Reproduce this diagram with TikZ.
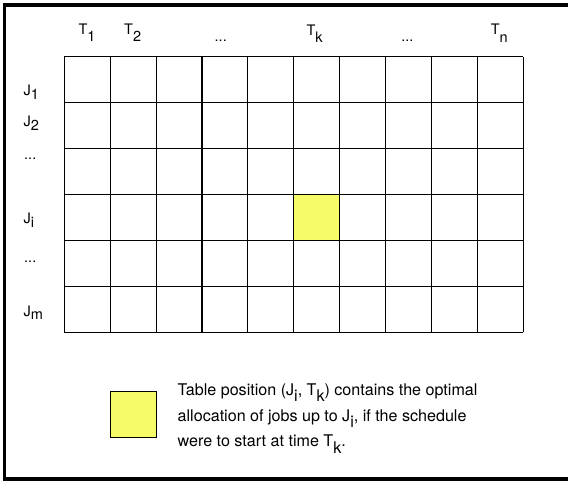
\documentclass[tikz,border=0pt]{standalone}
\usepackage{fontspec}
\setmainfont{TeX Gyre Heros}
\usetikzlibrary{positioning}
\definecolor{cellyellow}{RGB}{246,252,104}
\newcommand{\lowsub}[2]{\raisebox{-#1}{#2}}

\begin{document}
\begin{tikzpicture}[x=1pt, y=-1pt,
  lbl/.style={font=\fontsize{14.5}{17}\selectfont, inner sep=0pt, anchor=base west},
  legtext/.style={lbl, font=\fontsize{16.1}{18}\selectfont}]
  \useasboundingbox (0,0) rectangle (568,483);
  \draw[line width=3.5pt] (4.7,5) rectangle (600,479);

  % table of jobs against start times
  \begin{scope}[xshift=64.3pt, yshift=-332.3pt, x=45.9pt, y=45.9pt]
    \fill[cellyellow] (5,2) rectangle (6,3);
    \draw[line width=1.1pt, step=1] (0,0) grid (10,6);
  \end{scope}

  \node[lbl] (t1) at (78.3,34) {T\lowsub{7.5pt}{1}};
  \node[lbl] (t2) at (124,34) {T\lowsub{7.5pt}{2}};
  \node[lbl] (tdots1) at (214.5,41.5) {...};
  \node[lbl] (tk) at (306.3,35) {T\lowsub{7.5pt}{k}};
  \node[lbl] (tdots2) at (401.2,41.5) {...};
  \node[lbl] (tn) at (490.6,34.5) {T\lowsub{7.5pt}{n}};

  \node[lbl] (j1) at (23.5,95.5) {J\lowsub{3.5pt}{1}};
  \node[lbl] (j2) at (23.5,126.7) {J\lowsub{3.5pt}{2}};
  \node[lbl] (jdots1) at (24,159.3) {...};
  \node[lbl] (ji) at (23.5,223.5) {J\lowsub{3.5pt}{i}};
  \node[lbl] (jdots2) at (24,262.5) {...};
  \node[lbl] (jm) at (23.5,316.3) {J\lowsub{3.5pt}{m}};

  % legend
  \node[draw, line width=1.1pt, fill=cellyellow, minimum size=46pt, inner sep=0pt] (legbox) at (133.3,414.7) {};
  \node[legtext] (leg1) at (177.5,395) {Table position (J\lowsub{6pt}{i}, T\lowsub{6.5pt}{k}) contains the optimal};
  \node[legtext] (leg2) at (177.5,421) {allocation of jobs up to J\lowsub{6pt}{i}, if the schedule};
  \node[legtext] (leg3) at (177.5,446.7) {were to start at time T\lowsub{6.5pt}{k}.};
\end{tikzpicture}
\end{document}
